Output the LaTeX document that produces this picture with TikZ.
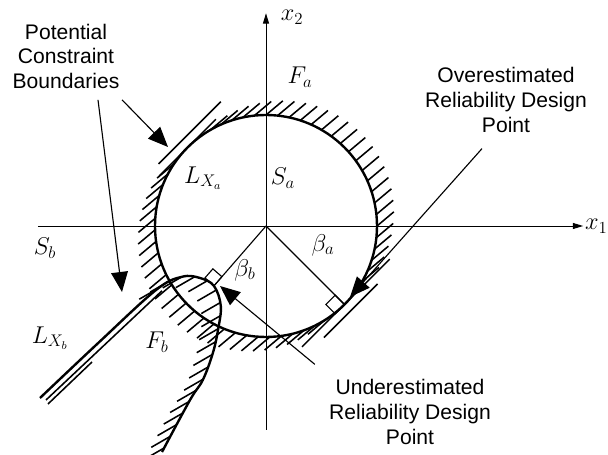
\documentclass[tikz,border=0pt]{standalone}
\usepackage{fontspec}
\setmainfont{Liberation Sans}
\usetikzlibrary{arrows.meta,decorations.markings}

\begin{document}
\begin{tikzpicture}[x=1cm,y=1cm,font=\fontsize{15}{17.5}\selectfont,
  hatch/.style={line width=1.1pt},
  bound/.style={line width=1.7pt},
  ptr/.style={line width=0.8pt,-{Triangle[length=5mm,width=4.2mm]}},
  axis/.style={line width=0.7pt,-{Triangle[length=2.6mm,width=1.5mm]}},
  txt/.style={align=center,inner sep=0pt},
  lbl/.style={inner sep=1pt,font=\fontsize{17}{20}\selectfont}]
  \useasboundingbox (-6.65,-5.725) rectangle (8.55,5.65);
  \coordinate (O) at (0,0);
  \coordinate (Ta) at (-45:2.775);
  \coordinate (Tc) at (135:2.775);
  \coordinate (Tb) at (229:1.98);
  % hatching outside the circle
  \foreach \a in {-30,-24,...,124}{\draw[hatch] (\a:2.775) -- ++(40:0.55);}
  \foreach \a in {146,152,...,302}{\draw[hatch] (\a:2.775) -- ++(220:0.55);}
  \draw[bound] (O) circle (2.775);
  % tangent boundaries
  \draw[line width=1pt] (Tc) ++(225:1.0) -- ++(45:2.0);
  \draw[hatch] (Tc) ++(135:0.22) ++(225:0.8) -- ++(45:2.2);
  \draw[line width=1pt] (Ta) ++(225:1.5) -- ++(45:3.1);
  \draw[hatch] (Ta) ++(-45:0.22) ++(225:0.95) -- ++(45:1.9);
  % second boundary
  \draw[bound,postaction={decorate,decoration={markings,
      mark=between positions 0.4 and 0.99 step 0.33cm with
      {\pgftransformresetnontranslations\draw[hatch] (0,0) -- (210:0.55);}}}]
    plot[smooth,tension=0.6] coordinates {(-5.65,-4.3) (-4.2,-2.93) (-2.75,-1.6)
      (-2.1,-1.27) (-1.65,-1.3) (-1.3,-1.5) (-1.13,-2.0) (-1.2,-2.6)
      (-1.33,-3.18) (-1.58,-3.85) (-1.9,-4.35) (-2.6,-5.65)};
  \draw[hatch] (-5.5,-4.35) -- (-2.6,-1.62);
  \draw[hatch] (-5.45,-4.45) -- (-4.35,-3.4);
  % axes
  \draw[axis] (-5.7,0) -- (7.93,0) node[right,lbl] (xone) {$x_1$};
  \draw[axis] (0,-5.1) -- (0,5.32);
  \node[lbl] (xtwo) at (0.65,5.225) {$x_2$};
  % reliability indices
  \draw[line width=0.8pt] (O) -- (Ta);
  \draw[line width=0.8pt] (Ta) -- ++(135:0.33) -- ++(225:0.33) -- ++(-45:0.33) -- cycle;
  \draw[line width=0.8pt] (O) -- (Tb);
  \draw[line width=0.8pt] (Tb) -- ++(49:0.3) -- ++(139:0.3) -- ++(229:0.3) -- cycle;
  % labels
  \node[lbl] (Fa) at (0.85,3.725) {$F_a$};
  \node[lbl] (Sa) at (0.425,1.2) {$S_a$};
  \node[lbl] (LXa) at (-1.575,1.2) {$L_{X_a}$};
  \node[lbl] (Sb) at (-5.525,-0.55) {$S_b$};
  \node[lbl] (LXb) at (-5.4,-2.8) {$L_{X_b}$};
  \node[lbl] (Fb) at (-2.725,-2.9) {$F_b$};
  \node[lbl] (ba) at (1.425,-0.475) {$\beta_a$};
  \node[lbl] (bb) at (-0.525,-1.1) {$\beta_b$};
  % callouts
  \node[txt] (pcb) at (-5.0,4.24) {Potential\\Constraint\\Boundaries};
  \node[txt] (over) at (6.0,3.15) {Overestimated\\Reliability Design\\Point};
  \node[txt] (under) at (3.6,-4.65) {Underestimated\\Reliability Design\\Point};
  \coordinate (tipc) at (-2.45,1.975);
  \coordinate (tipb) at (-3.6,-1.65);
  \coordinate (tipa) at (2.1,-1.775);
  \coordinate (tipu) at (-1.15,-1.5);
  \draw[ptr] ([shift={(0.06,-0.27)}]pcb.south east) -- (tipc);
  \draw[ptr] ([shift={(0.8,-0.27)}]pcb.south) -- (tipb);
  \draw[ptr] ([shift={(-0.6,-0.4)}]over.south) -- (tipa);
  \draw[ptr] ([shift={(-0.35,0.375)}]under.north west) -- (tipu);
\end{tikzpicture}
\end{document}
